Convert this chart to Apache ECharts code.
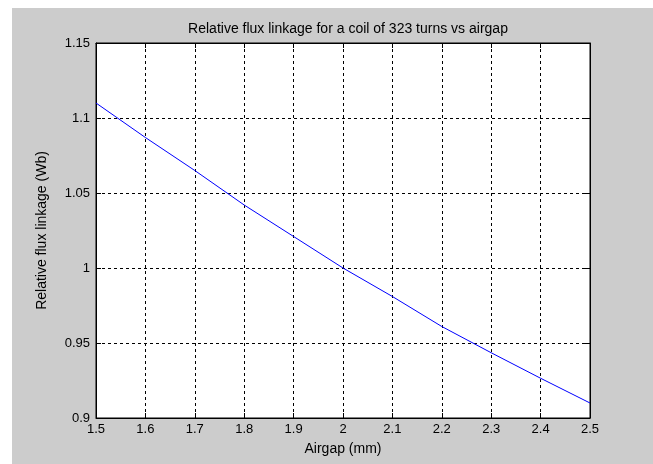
<!DOCTYPE html>
<html><head><meta charset="utf-8">
<script src="https://cdn.jsdelivr.net/npm/echarts@6/dist/echarts.min.js"></script>
<style>html,body{margin:0;padding:0;background:#fff}#c{width:653px;height:464px}</style>
</head><body><div id="c"></div>
<script>
const airgap = [1.5,1.6,1.7,1.8,1.9,2.0,2.1,2.2,2.3,2.4,2.5];
const flux = [1.110,1.087,1.065,1.042,1.021,1.000,0.981,0.961,0.9435,0.9265,0.910];
const xTicks = ['1.5','1.6','1.7','1.8','1.9','2','2.1','2.2','2.3','2.4','2.5'];
const yTicks = ['0.9','0.95','1','1.05','1.1','1.15'];

const chart = echarts.init(document.getElementById('c'), null, {renderer:'canvas'});
const font = 'Liberation Sans, Arial, sans-serif';
const gridL=96, gridT=43, gridR=63, gridB=46;
function xLabel(v){ const i=Math.round((v-1.5)*10); return xTicks[i]!==undefined?xTicks[i]:''; }
function yLabel(v){ const i=Math.round((v-0.9)*20); return yTicks[i]!==undefined?yTicks[i]:''; }
const baseAxisLine = {show:true, lineStyle:{color:'#000', width:1}};
chart.setOption({
  animation:false,
  backgroundColor:'#fff',
  graphic:[{type:'rect', z:-10, silent:true, shape:{x:12,y:8,width:641,height:456}, style:{fill:'#cccccc'}}],
  title:{text:'Relative flux linkage for a coil of 323 turns vs airgap', left:343, top:17, textAlign:'center',
    textStyle:{fontFamily:font, fontSize:14, fontWeight:'normal', color:'#000'}},
  grid:{left:gridL, top:gridT, right:gridR, bottom:gridB, show:true, backgroundColor:'#fff', borderColor:'#000', borderWidth:1},
  xAxis:[{type:'value', min:1.5, max:2.5, interval:0.1, position:'bottom',
    name:'Airgap (mm)', nameLocation:'middle', nameGap:24,
    nameTextStyle:{fontFamily:font, fontSize:14, color:'#000'},
    axisLine:baseAxisLine, axisTick:{show:true, inside:true, length:5, lineStyle:{color:'#000'}},
    axisLabel:{fontFamily:font, fontSize:13, color:'#000', margin:5, formatter:xLabel, showMinLabel:true, showMaxLabel:true},
    splitLine:{show:true, lineStyle:{color:'#000', type:[3,3], width:1}}},
   {type:'value', min:1.5, max:2.5, interval:0.1, position:'top',
    axisLine:baseAxisLine, axisTick:{show:true, inside:true, length:5, lineStyle:{color:'#000'}},
    axisLabel:{show:false}, splitLine:{show:false}}],
  yAxis:[{type:'value', min:0.9, max:1.15, interval:0.05, position:'left',
    name:'Relative flux linkage (Wb)', nameLocation:'middle', nameGap:47,
    nameTextStyle:{fontFamily:font, fontSize:14, color:'#000'},
    axisLine:baseAxisLine, axisTick:{show:true, inside:true, length:5, lineStyle:{color:'#000'}},
    axisLabel:{fontFamily:font, fontSize:13, color:'#000', margin:6, formatter:yLabel, showMinLabel:true, showMaxLabel:true},
    splitLine:{show:true, lineStyle:{color:'#000', type:[3,3], width:1}}},
   {type:'value', min:0.9, max:1.15, interval:0.05, position:'right',
    axisLine:baseAxisLine, axisTick:{show:true, inside:true, length:5, lineStyle:{color:'#000'}},
    axisLabel:{show:false}, splitLine:{show:false}}],
  series:[{type:'line', data:airgap.map((x,i)=>[x,flux[i]]), showSymbol:false, symbol:'none',
    lineStyle:{color:'#0000ff', width:1}, xAxisIndex:0, yAxisIndex:0}]
});
</script></body></html>
